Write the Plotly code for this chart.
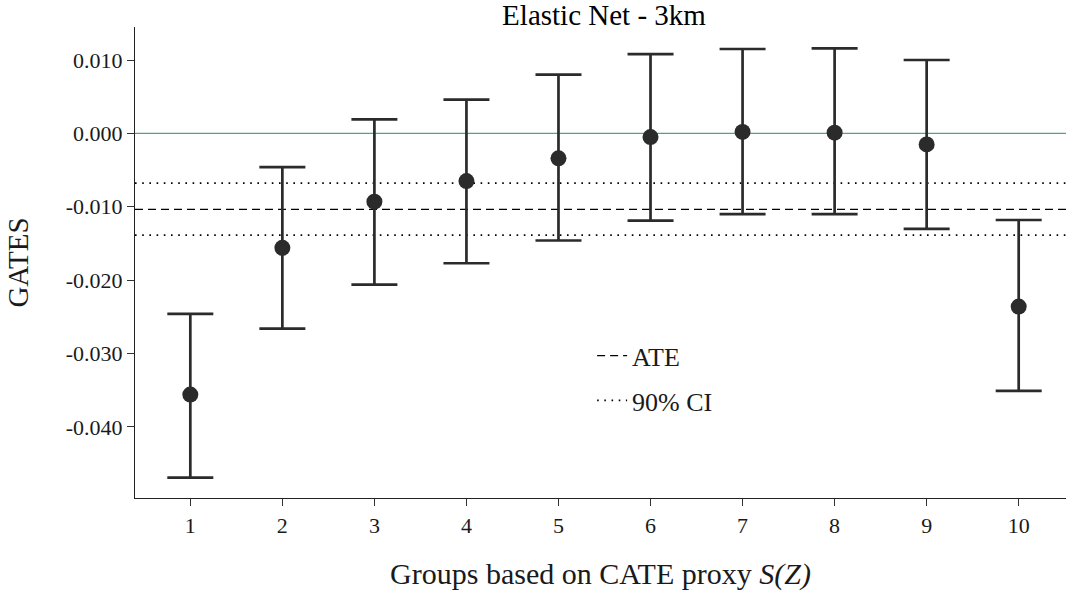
import plotly.graph_objects as go

# ---- data ----
groups = [1, 2, 3, 4, 5, 6, 7, 8, 9, 10]
gates = [-0.0356, -0.0156, -0.0093, -0.0065, -0.0034, -0.0005, 0.0002, 0.0001, -0.0015, -0.0236]
ci_lower = [-0.0469, -0.0266, -0.0206, -0.0177, -0.0146, -0.0119, -0.0110, -0.0110, -0.0130, -0.0351]
ci_upper = [-0.0246, -0.0046, 0.0019, 0.0046, 0.0080, 0.0108, 0.0115, 0.0116, 0.0100, -0.0118]
ate = -0.01035
ate_ci_low = -0.01387
ate_ci_high = -0.00678
zero_level = 0.0

ytick_vals = [0.01, 0.0, -0.01, -0.02, -0.03, -0.04]
ytick_text = [f"{v:.3f}" for v in ytick_vals]

title_text = "Elastic Net - 3km"
xlabel = "Groups based on CATE proxy <i>S(Z)</i>"
ylabel = "GATES"

# ---- layout constants ----
x_range = [0.399, 10.514]
y_range = [-0.04969, 0.01450]
FONT = "Liberation Serif"
DARK = "#2b2b2b"

fig = go.Figure()

# zero line
fig.add_trace(go.Scatter(
    x=x_range, y=[zero_level, zero_level], mode="lines",
    line=dict(color="#559e98", width=1.3), showlegend=False, hoverinfo="skip"))

# ATE line
fig.add_trace(go.Scatter(
    x=x_range, y=[ate, ate], mode="lines", name="ATE",
    legendgroup="a",
    line=dict(color="black", width=1.4, dash="8px,5px")))

# CI lines
fig.add_trace(go.Scatter(
    x=x_range, y=[ate_ci_high, ate_ci_high], mode="lines", name="90% CI",
    legendgroup="b",
    line=dict(color="black", width=1.6, dash="1.6px,5.6px")))
fig.add_trace(go.Scatter(
    x=x_range, y=[ate_ci_low, ate_ci_low], mode="lines", name="90% CI",
    legendgroup="b", showlegend=False,
    line=dict(color="black", width=1.6, dash="1.6px,5.6px")))

# GATES with error bars
err_plus = [u - g for u, g in zip(ci_upper, gates)]
err_minus = [g - l for g, l in zip(gates, ci_lower)]
fig.add_trace(go.Scatter(
    x=groups, y=gates, mode="markers", showlegend=False,
    marker=dict(color=DARK, size=16),
    error_y=dict(type="data", symmetric=False, array=err_plus, arrayminus=err_minus,
                 color=DARK, thickness=2.7, width=23)))

fig.update_layout(
    width=1066, height=592,
    margin=dict(l=135, r=0, t=27, b=94),
    paper_bgcolor="white", plot_bgcolor="white",
    font=dict(family=FONT, color="#1a1a1a", size=22),
    title=dict(text=title_text, font=dict(family=FONT, size=29, color="black"),
               x=604 / 1066, xref="container", xanchor="center",
               y=1 - 15 / 592, yref="container", yanchor="middle"),
    showlegend=True,
    legend=dict(x=0.491, y=0.352, xanchor="left", yanchor="top",
                bgcolor="rgba(0,0,0,0)", font=dict(family=FONT, size=26, color="#1a1a1a"),
                tracegroupgap=8, traceorder="grouped"),
)

fig.update_xaxes(
    range=x_range, tickmode="array", tickvals=groups,
    ticktext=[str(g) for g in groups],
    showgrid=False, zeroline=False, showline=True, linecolor="#222", linewidth=1.2,
    ticks="outside", ticklen=7, tickwidth=1.1, tickcolor="#333",
    tickfont=dict(family=FONT, size=22),
    title=dict(text=xlabel, font=dict(family=FONT, size=30, color="#1a1a1a"), standoff=26),
)
fig.update_yaxes(
    range=y_range, tickmode="array", tickvals=ytick_vals, ticktext=ytick_text,
    showgrid=False, zeroline=False, showline=True, linecolor="#222", linewidth=1.2,
    ticks="outside", ticklen=7, tickwidth=1.1, tickcolor="#333",
    tickfont=dict(family=FONT, size=22),
    title=dict(text=ylabel, font=dict(family=FONT, size=29, color="#1a1a1a"), standoff=28),
)

fig.write_html("out.html", config={"displayModeBar": False},
               post_script="document.body.style.margin='0px';document.body.style.overflow='hidden';")
